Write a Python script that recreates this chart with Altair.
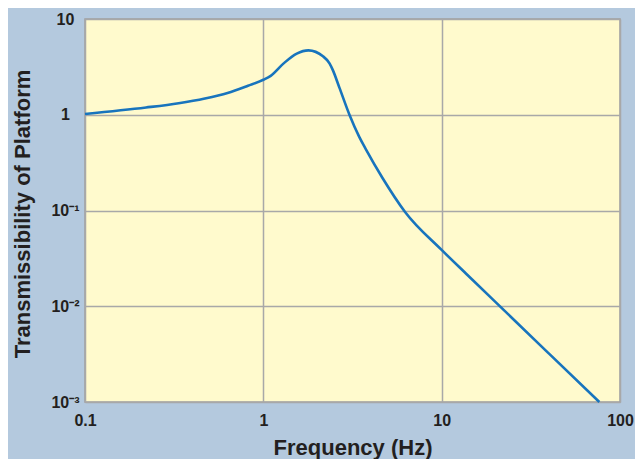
import altair as alt
import pandas as pd

freq = [0.1, 0.22, 0.335, 0.47, 0.63, 0.82, 1.0, 1.1, 1.3, 1.54, 1.79, 2.16, 2.35, 2.45,
        2.67, 3.04, 3.45, 3.76, 4.65, 6.25, 9.96, 14.0, 20.0, 40.0, 76.6]
trans = [1.02, 1.19, 1.32, 1.48, 1.69, 2.01, 2.32, 2.55, 3.44, 4.35, 4.7, 4.08, 3.44, 2.94,
         1.92, 1.0, 0.587, 0.436, 0.22, 0.096, 0.039, 0.0211, 0.0111, 0.0032, 0.001]

x_ticks = [0.1, 1, 10, 100]
y_ticks = [0.001, 0.01, 0.1, 1, 10]

df = pd.DataFrame({"freq": freq, "trans": trans})

FONT = "Liberation Sans, Arial, Helvetica, sans-serif"
TXT = "#231f20"

ylab_expr = (
    "datum.value < 0.005 ? '10⁻³' : datum.value < 0.05 ? '10⁻²' : "
    "datum.value < 0.5 ? '10⁻¹' : datum.value < 5 ? '1' : '10'"
)
xlab_expr = "datum.value < 0.5 ? '0.1' : datum.value < 5 ? '1' : datum.value < 50 ? '10' : '100'"

W, H = 535, 383

chart = alt.Chart(df).mark_line(
    color="#1874bd", strokeWidth=2.6, interpolate="monotone"
).encode(
    x=alt.X(
        "freq:Q",
        scale=alt.Scale(type="log", domain=[0.1, 100], nice=False),
        axis=alt.Axis(
            values=x_ticks, labelExpr=xlab_expr, title="Frequency (Hz)",
            grid=True, gridColor="#a8a8a8", gridWidth=1.5,
            domain=False, ticks=False, labelPadding=10, labelFlush=False,
            labelOverlap=False, labelFont=FONT, labelFontSize=16, labelFontWeight="bold",
            labelColor=TXT, titleFont=FONT, titleFontSize=22, titleFontWeight="bold",
            titleColor=TXT, titleBaseline="alphabetic", titleAlign="center",
            titleX=W / 2, titleY=52,
        ),
    ),
    y=alt.Y(
        "trans:Q",
        scale=alt.Scale(type="log", domain=[0.001, 10], nice=False),
        axis=alt.Axis(
            values=y_ticks, labelExpr=ylab_expr, title="Transmissibility of Platform",
            grid=True, gridColor="#a8a8a8", gridWidth=1.5,
            domain=False, ticks=False, labelPadding=20, labelAlign="center",
            labelBaseline="middle", labelOverlap=False, labelFlush=False,
            labelFont=FONT, labelFontSize=16, labelFontWeight="bold", labelColor=TXT,
            titleFont=FONT, titleFontSize=22, titleFontWeight="bold", titleColor=TXT,
            titleAngle=270, titleBaseline="alphabetic", titleAlign="center",
            titleX=-56, titleY=H / 2 + 3,
        ),
    ),
).properties(
    width=W,
    height=H,
    autosize=alt.AutoSizeParams(type="none"),
    padding={"left": 77, "top": 11, "right": 15, "bottom": 57},
    background="#b4c9de",
).configure_view(
    fill="#fffacd", stroke="#a0a0a0", strokeWidth=1.5
)

chart.save("out.html", embed_options={"renderer": "svg", "actions": False})
